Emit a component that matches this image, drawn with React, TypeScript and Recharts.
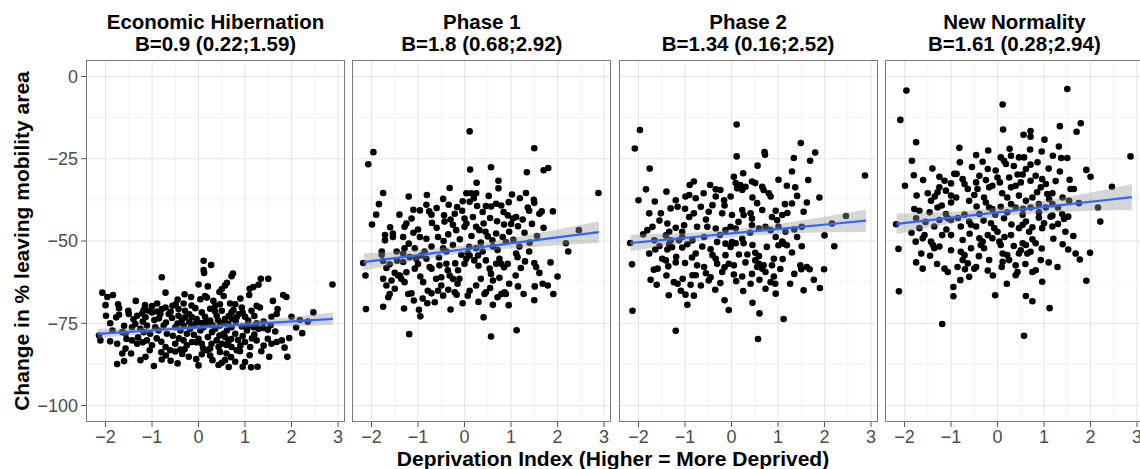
import React from 'react'
import { ComposedChart, Scatter, Line, Area, XAxis, YAxis, CartesianGrid } from 'recharts'

// axes shared by all four facets
const xDomain: [number, number] = [-2.42, 3.15]
const yDomain: [number, number] = [-105, 5]
const xTicks = [-2, -1, 0, 1, 2, 3]
const xMinor = [-1.5, -0.5, 0.5, 1.5, 2.5]
const yTicks = [-100, -75, -50, -25, 0]
const yMinor = [-87.5, -62.5, -37.5, -12.5]

const titles = ['Economic Hibernation', 'Phase 1', 'Phase 2', 'New Normality']
const subtitles = ['B=0.9 (0.22;1.59)', 'B=1.8 (0.68;2.92)', 'B=1.34 (0.16;2.52)', 'B=1.61 (0.28;2.94)']

// regression fit + 95% band, read at these x values
const fitX = [-2.17, -1.5, -0.75, 0, 0.75, 1.5, 2.2, 2.89]
const fit1 = [-78.2, -77.6, -76.9, -76.25, -75.6, -74.9, -74.3, -73.65]
const lo1 = [-79.7, -78.7, -77.7, -76.95, -76.4, -76.0, -75.8, -75.55]
const hi1 = [-76.7, -76.5, -76.1, -75.55, -74.8, -73.8, -72.8, -71.75]
const fit2 = [-56.4, -55.2, -53.85, -52.5, -51.15, -49.8, -48.54, -47.3]
const lo2 = [-59.0, -57.2, -55.25, -53.7, -52.55, -51.8, -51.14, -50.6]
const hi2 = [-53.8, -53.2, -52.45, -51.3, -49.75, -47.8, -45.94, -44.0]
const fit3 = [-50.61, -49.71, -48.71, -47.7, -46.7, -45.69, -44.75, -43.83]
const lo3 = [-53.11, -51.61, -50.11, -48.9, -48.1, -47.59, -47.35, -47.23]
const hi3 = [-48.11, -47.81, -47.31, -46.5, -45.3, -43.79, -42.15, -40.43]
const fit4 = [-44.79, -43.72, -42.51, -41.3, -40.09, -38.89, -37.76, -36.65]
const lo4 = [-47.89, -46.02, -44.11, -42.7, -41.69, -41.19, -40.76, -40.65]
const hi4 = [-41.69, -41.42, -40.91, -39.9, -38.49, -36.59, -34.76, -32.65]

// [deprivation index, change in %]
const pts1: [number, number][] = [
  [0.11, -56], [0.27, -57.3], [0.11, -58.8], [0.12, -59.7], [-0.79, -61], [0.71, -60.7], [0.74, -59.9], [1.34, -61.5],
  [1.5, -61.5], [2.88, -63.2], [0, -63.2], [0.57, -63.5], [0.61, -62.7], [0.5, -64.6], [1.1, -64.5], [1.18, -64],
  [1.29, -63.3], [0.45, -65.5], [-2.07, -65.7], [-1.96, -67], [-1.84, -66.4], [-1.73, -69.2], [-1.71, -70.4], [-0.71, -65.7],
  [-0.16, -67], [0.14, -66.7], [0.54, -66.7], [1.09, -66.4], [1.82, -66.4], [1.89, -67], [-0.89, -69], [-0.49, -69.2],
  [-0.32, -69], [0.04, -67.7], [0.18, -67.2], [0.32, -68.2], [0.36, -69.7], [0.46, -69.2], [0.68, -69], [0.79, -69.2],
  [0.93, -70.2], [1.25, -69.7], [1.32, -70.2], [-1.18, -71], [-1.07, -71.2], [-0.79, -70.7], [-0.71, -70.2], [-0.56, -69.7],
  [-0.43, -70.7], [-0.29, -71.2], [-0.07, -70.4], [-1.51, -71.2], [1.7, -70.7], [-1.99, -72.7], [-1.77, -73.2], [-1.71, -72.4],
  [-1.5, -72.2], [-1.32, -72.7], [-1.21, -72], [-1.14, -73.2], [-1, -71.7], [-0.89, -71.4], [-0.82, -72.2], [-0.64, -72.2],
  [-0.57, -73.4], [-0.43, -72.7], [-0.36, -74], [-0.29, -73.2], [-0.14, -73.2], [-0.04, -73.7], [0.07, -71.7], [0.14, -73],
  [0.25, -74.2], [0.39, -72.7], [0.5, -71.2], [0.57, -73.7], [0.71, -71.7], [0.82, -73.2], [0.87, -72.2], [1, -73],
  [1.07, -74.2], [1.14, -71.2], [1.57, -73], [1.68, -72.2], [2.0, -73], [2.18, -74], [2.47, -71.7], [-2.14, -78.7],
  [-2.11, -80.2], [-1.64, -77.7], [-1.57, -78.2], [-1.43, -76.2], [-1.36, -75.2], [-1.25, -76.7], [-1.18, -77.7], [-1.11, -75.7],
  [-1.04, -78.2], [-0.93, -76.2], [-0.86, -77.2], [-0.75, -75.7], [-0.68, -78.2], [-0.5, -76.2], [-0.39, -77.2], [-0.32, -75.7],
  [-0.25, -78.2], [-0.18, -76.7], [-0.07, -75.2], [0.04, -77.2], [0.11, -76.2], [0.21, -75.2], [0.29, -77.7], [0.36, -76.7],
  [0.46, -75.7], [0.54, -78.2], [0.61, -77.2], [0.64, -75.2], [0.71, -76.2], [0.79, -78.2], [0.93, -76], [1.04, -77.2],
  [1.18, -76.2], [1.29, -76.7], [1.39, -76.4], [1.49, -77], [2.23, -78], [-1.75, -81.2], [-1.57, -82.7], [-1.64, -84.2],
  [-1.43, -80.2], [-1.32, -81.2], [-1.11, -80.2], [-1, -81.7], [-0.71, -82.2], [-0.61, -83.2], [-0.5, -81.2], [-0.32, -80.2],
  [-0.25, -81.7], [-0.14, -80.7], [0, -79.7], [0.07, -81.2], [0.25, -82.7], [0.39, -80.2], [0.43, -82.2], [0.5, -81.2],
  [0.57, -79.2], [0.64, -80.7], [0.71, -82.2], [0.82, -83.2], [1, -80.7], [1.11, -82.2], [1.25, -80.2], [1.49, -79.7],
  [1.57, -81.2], [1.68, -80.7], [1.79, -80.2], [-1.75, -87.4], [-1.25, -86.2], [-1.14, -85.2], [-0.96, -88], [-0.79, -86],
  [-0.5, -83.6], [-0.39, -83], [-0.21, -85.2], [0.07, -84.4], [0.18, -83.2], [0.43, -87.7], [0.5, -87], [0.57, -86.2],
  [0.46, -83.7], [0.79, -86.7], [0.89, -83.5], [1.13, -88.4], [1.27, -88.2], [1.52, -85.2], [1.91, -85.2],
  [-1.2, -74.5], [-0.95, -74], [-0.7, -74.8], [-0.45, -75.1], [-0.2, -74.6], [0.05, -74.9], [0.3, -75.6], [0.55, -74.7],
  [0.8, -74.4], [1.05, -75.8], [-1.3, -79.3], [-0.9, -79.6], [-0.55, -78.8], [-0.1, -78.5], [0.2, -79.2], [0.45, -78.7],
  [0.7, -79.8], [0.95, -78.9], [1.2, -78.4], [-0.8, -83.8], [-0.3, -82.9], [0.1, -82.6], [0.6, -84.2], [0.9, -81.8],
  [-1.0, -69.8], [-0.15, -69.6], [0.25, -70.6], [0.75, -71], [1.4, -74.5], [-1.6, -75.8], [-1.85, -77.2], [1.65, -77.5],
  [-0.6, -86.4], [0.3, -86.2], [1.0, -86.8], [-1.45, -84.2], [-0.05, -85.9], [0.65, -88.3], [-1.9, -80.5], [1.85, -82.4],
  [-1.15, -69.5], [-0.6, -71.5], [-0.2, -72.3], [0.35, -71.3], [0.65, -72.8], [0.95, -71.8], [1.2, -72.8], [-1.4, -73.8],
  [-0.85, -73.5], [-0.15, -75.8], [0.15, -74.6], [0.42, -74.1], [0.72, -73.6], [1.25, -75], [1.55, -75.6], [-1.55, -79.8],
  [-1.2, -80.8], [-0.8, -80.6], [-0.42, -79.6], [-0.05, -80.8], [0.28, -81.2], [0.6, -81.6], [0.85, -80.1], [1.15, -79.6],
  [1.4, -81.8], [-1.05, -83.2], [-0.7, -84.8], [-0.35, -84.3], [0.25, -84.8], [0.7, -85.3], [1.1, -84.7], [1.35, -83.5],
  [-1.6, -86.5], [-0.45, -87.2], [0.0, -87.8], [0.95, -88.2], [-1.9, -75], [-2.0, -69.5], [2.1, -76.3], [1.95, -79.5],
  [2.35, -74.5], [-0.3, -66.2], [0.9, -67.5], [-1.35, -68.2], [0.2, -63.8], [-0.45, -67.8], [1.6, -68.2],
]

const pts2: [number, number][] = [
  [0.11, -16.7], [-1.96, -23], [-2.07, -26.7], [1.5, -21.8], [0.12, -28.3], [0.57, -27.6], [1.34, -29.1], [1.7, -28.5],
  [1.8, -27.8], [2.88, -35.4], [-1.75, -35.4], [-1.84, -38.8], [-1.99, -45], [-0.32, -33.9], [-0.81, -36], [-0.46, -37.2],
  [-0.34, -39], [0.26, -32.3], [0.73, -31.7], [0.73, -34], [0.52, -36.3], [0.04, -35.5], [0.14, -35.5], [0.25, -35.5],
  [1.02, -35.9], [1.19, -37], [1.32, -35.4], [1.49, -37.5], [-0.04, -37.9], [0.11, -38.1], [0.27, -39.4], [-0.16, -39.7],
  [-0.82, -39], [-0.96, -40.7], [-0.76, -41], [-0.71, -42], [-0.44, -42.2], [-0.21, -41.7], [0, -43.2], [0.18, -42.7],
  [0.39, -41.2], [0.46, -39.4], [0.57, -39.5], [0.68, -38.7], [0.79, -39.2], [0.84, -41.2], [0.93, -42.2], [1.04, -43.2],
  [1.11, -42.7], [1, -44.8], [1.36, -39.8], [1.39, -40.8], [1.5, -38.4], [1.61, -41.7], [1.66, -41], [1.9, -41],
  [-1.14, -43.2], [-1.25, -44.7], [-1.29, -45.7], [-1.32, -48.8], [-0.96, -48.8], [-0.82, -49.3], [-0.57, -48.8], [-0.43, -44.1],
  [-0.25, -45.1], [-0.18, -46.7], [0, -45.7], [0.04, -44.7], [0.25, -45.7], [0.32, -46.7], [0.41, -44.7], [0.45, -47.2],
  [0.68, -47.7], [0.82, -48.8], [0.89, -50.3], [0.96, -47.2], [1.29, -47.5], [1.56, -48.5], [-1.71, -48.2], [-1.71, -49.8],
  [-1.54, -47.7], [-1.54, -48.8], [2.46, -46.7], [2.18, -50.7], [2.23, -53.2], [1.39, -53.2], [1.18, -51.7], [-1.78, -53.2],
  [-1.78, -54.2], [-1.46, -53.2], [-1.29, -52.2], [-1.07, -52.2], [-0.86, -53.2], [-0.71, -51.7], [-0.46, -52.2], [-0.39, -53.2],
  [-0.25, -51.2], [-0.07, -54.2], [0.07, -53.7], [0.25, -52.2], [0.39, -53.2], [0.61, -51.7], [0.71, -52.7],
  [-1.0, -46.5], [-0.6, -46], [0.15, -48.5], [0.6, -49.8], [-0.1, -49.5], [-1.2, -50.8], [0.35, -50.5], [1.15, -45.5],
  [-0.35, -48], [0.85, -45],
  [-2.18, -56.7], [-2.13, -60.5], [-2.12, -70.7], [-1.75, -70], [-1.19, -78.3], [0.57, -79], [1.12, -77.1], [0.41, -73.2],
  [0.61, -69.4], [-0.95, -72.9], [-0.98, -70.9], [-1.09, -68.1], [-0.8, -68.9], [-0.64, -68.6], [-0.04, -68.9], [-1.61, -66.1],
  [-1.64, -67.1], [-1.75, -61.5], [-1.68, -63.5], [-1.57, -62], [-1.43, -60.5], [-1.36, -61.5], [-1.29, -62.5], [-1.21, -66.1],
  [-1.14, -65.9], [-0.79, -65.1], [-0.71, -65.9], [-0.57, -65.1], [-0.5, -63.5], [-0.46, -66.6], [-0.21, -65.6], [-0.17, -66.3],
  [0.07, -66.6], [0.11, -65.1], [0.25, -63.5], [0.43, -66.1], [0.46, -65.6], [0.71, -67.1], [0.79, -66.1], [0.86, -65.6],
  [0.89, -66.1], [0.96, -63], [1.27, -66.1], [1.51, -63.8], [1.68, -63], [1.79, -63.5], [1.91, -66.1], [2, -60.8],
  [1.21, -58.2], [1.5, -56.7], [1.54, -57.9], [1.61, -59.7], [-1.75, -56.1], [-1.68, -58.2], [-1.61, -57.1], [-1.5, -59.7],
  [-1.39, -60.5], [-1.32, -53.8], [-1.32, -56.4], [-1.18, -54.9], [-1.04, -55.4], [-0.93, -54.4], [-0.82, -55.4], [-0.75, -57.9],
  [-0.71, -58.4], [-0.39, -56.9], [-0.36, -58.9], [-0.32, -60.5], [-0.25, -61.5], [-0.14, -58.9], [-0.11, -61.5], [0, -56.9],
  [0.04, -55.4], [0.11, -54.4], [0.21, -55.9], [0.29, -54.4], [0.46, -55.9], [0.54, -58.4], [0.57, -60], [0.61, -62],
  [0.68, -56.9], [0.75, -55.4], [0.79, -56.9], [0.93, -56.9], [1.11, -53.8], [1.14, -54.9], [-0.61, -61.5], [-0.5, -61],
  [-0.89, -62.5], [-0.54, -57.4], [-1.07, -58.4],
  [-1.4, -42], [-1.1, -40.5], [-0.6, -40], [-0.05, -40.8], [0.55, -43], [1.25, -43.5], [-1.6, -45.8], [-0.7, -44.5],
  [-0.3, -43.5], [0.7, -44], [1.45, -44.8], [-1.1, -47.5], [-0.45, -50], [0.1, -51.8], [0.5, -48.6], [1.05, -49.6],
  [1.4, -50.5], [-1.45, -56], [-1.0, -57], [-0.55, -55], [-0.2, -56.8], [0.3, -57.5], [0.85, -58], [1.3, -56.2],
  [-1.25, -59.5], [-0.95, -60.8], [-0.15, -63], [0.35, -61.5], [0.75, -61.2], [1.1, -60.5], [-1.5, -64.5], [-0.35, -64.8],
  [0.55, -64.3], [1.15, -63.8], [-0.9, -67.5], [0.3, -68.5], [0.95, -69.5], [-1.3, -70.5], [-0.3, -70.8], [1.5, -68],
  [0.2, -37], [-1.2, -36.5], [0.95, -38.2], [1.7, -46], [-1.9, -42], [1.85, -56.5],
]

const pts3: [number, number][] = [
  [0.11, -14.6], [-1.97, -16.3], [-2.08, -21.9], [0.11, -24.3], [0.71, -23], [0.72, -23.8], [1.49, -20.2], [1.8, -23.1],
  [1.69, -25.6], [1.34, -24.8], [0.56, -27.1], [1.3, -28.9], [-1.76, -28], [2.87, -30.1], [-1.84, -34.3], [-2, -37.6],
  [0.25, -29.4], [-0.81, -31.9], [-0.46, -33], [-0.34, -34.3], [-0.24, -34.5], [0.09, -32.4], [0.19, -33], [0.12, -34],
  [0.23, -34.5], [0.3, -33.5], [0.44, -31.9], [0.51, -32.4], [0.66, -33.5], [0.69, -34.5], [0.8, -35.5], [0.84, -36.5],
  [1.01, -31.4], [1.19, -33.2], [1.37, -33.7], [1.41, -36.3], [1.3, -38.6], [1.55, -41.1], [1.62, -38.3], [1.89, -36.8],
  [-0.99, -36.5], [-0.91, -36], [-0.77, -37], [-0.34, -36.5], [-0.16, -37.6], [-0.02, -36.5], [-1.2, -37.6], [-1.16, -39.6],
  [-1.31, -40.1], [-1.77, -41.6], [-1.52, -41.6], [-1.38, -44.7], [-1.7, -45.7], [-1.81, -46.7], [-0.91, -42.7], [-0.81, -41.6],
  [-0.66, -39.6], [-0.41, -39.1], [-0.49, -41.1], [-0.2, -41.6], [0.01, -42.1], [0.23, -40.6], [0.26, -42.1], [0.41, -41.6],
  [0.44, -43.2], [0.66, -40.6], [0.87, -42.7], [0.98, -43.7], [1.09, -42.1], [-1.02, -45.2], [-1.06, -47.2], [-1.34, -47.2],
  [-0.74, -45.7], [-0.52, -45.7], [-0.34, -46.2], [-0.13, -46.7], [-0.02, -45.7], [0.09, -46.2], [0.44, -45.2], [0.59, -46.2],
  [0.73, -45.7], [0.84, -46.7], [1.01, -45.7], [1.16, -47.2], [1.41, -48.8], [1.51, -45.7], [2.16, -44.7], [2.46, -42.4],
  [-2.18, -50.6], [-1.66, -49.8], [-1.41, -48.3], [-1.31, -49.8], [-1.13, -49.8], [-1.06, -48.8], [-0.84, -49.8], [-0.59, -48.8],
  [-0.31, -50.3], [-0.13, -50.8], [0.01, -50.3], [-0.02, -51.8], [0.23, -49.3], [0.76, -51.8], [1.12, -50.8], [1.51, -51.6],
  [2.21, -51.6],
  [-2.14, -57.1], [-2.13, -71.2], [-1.2, -77.3], [0.57, -79.8], [0.6, -72], [1.12, -73.7], [-0.06, -71], [-0.95, -69.4],
  [-0.99, -66.3], [-0.81, -66.6], [-1.09, -65.1], [-1.77, -53.8], [-1.64, -52.6], [-1.74, -61.8], [-1.61, -63.3], [-1.67, -58.7],
  [-1.59, -58.4], [-1.49, -55.4], [-1.41, -55.9], [-1.36, -57.7], [-1.34, -50.9], [-1.28, -51.9], [-1.24, -62.5], [-1.16, -63],
  [-1.19, -54.8], [-1, -56.7], [-1.06, -52], [-0.95, -51], [-0.77, -53.8], [-0.74, -57.4], [-0.84, -60.4], [-0.77, -60.4],
  [-0.88, -63.3], [-0.66, -63.5], [-0.63, -51.7], [-0.59, -57.9], [-0.45, -61], [-0.49, -62], [-0.41, -54.3], [-0.34, -55.4],
  [-0.31, -56.9], [-0.2, -59.4], [-0.24, -62.8], [-0.13, -54.3], [-0.06, -56.9], [0.09, -50.7], [0.05, -57.4], [0.1, -62.2],
  [0.16, -54.1], [0.23, -60.8], [0.34, -54.1], [0.41, -63], [0.44, -60], [0.51, -55.9], [0.55, -57.9], [0.59, -56.9],
  [0.66, -58.4], [0.69, -57.4], [0.73, -59.4], [0.73, -64.5], [0.84, -62.5], [0.91, -60.8], [0.94, -63], [0.91, -55.4],
  [0.87, -57.4], [1.01, -51.3], [1.19, -51.3], [1.09, -50.2], [1.26, -63], [1.48, -57.4], [1.62, -57.9], [1.5, -58.6],
  [1.68, -58.6], [1.77, -61.8], [1.9, -64.3], [1.99, -58.6], [0.51, -53.6], [0.59, -54.6], [0.26, -50.7], [-1.38, -52.6],
  [-1.4, -35], [-0.6, -35.5], [0.45, -36.8], [1.15, -38.8], [-1.0, -40.2], [-0.15, -39.2], [0.55, -38.5], [1.2, -41.5],
  [-1.55, -43.8], [-0.55, -43.5], [0.15, -44.2], [0.95, -40.8], [-1.2, -46], [-0.25, -48.2], [0.4, -47.5], [0.95, -48.8],
  [1.35, -46.5], [-1.55, -51.5], [-0.45, -52.5], [0.45, -51.2], [1.3, -53.5], [-1.2, -56.5], [-0.85, -55], [-0.15, -58],
  [0.3, -56.5], [1.1, -55.5], [1.35, -60], [-1.4, -60.5], [-0.55, -59.8], [0.05, -60.2], [0.6, -61.8], [1.05, -58.5],
  [-1.05, -61.5], [-0.35, -64.8], [0.25, -65.2], [0.95, -66], [-1.35, -66.5], [-0.15, -68], [0.45, -68.8], [1.55, -65],
  [-1.9, -48], [2.0, -48.3], [-0.9, -33], [0.05, -30.5], [1.65, -31.5], [-1.65, -38],
]

const pts4: [number, number][] = [
  [-1.96, -4.3], [1.5, -3.8], [-2.09, -13.2], [0.11, -8.5], [0.12, -16.1], [-1.75, -20], [-1.84, -25.6], [-1.99, -33.2],
  [-0.82, -21.7], [-0.81, -26.1], [-0.46, -23.9], [-0.32, -25.9], [-0.21, -28.1], [-0.04, -28.6], [0.56, -17.7], [0.71, -16.6],
  [0.71, -18.3], [1.01, -19.2], [0.7, -22.2], [0.26, -22], [0.07, -24.6], [0.14, -25.6], [0.18, -26.6], [0.29, -24.1],
  [0.46, -24.6], [0.57, -24.6], [0.71, -26.8], [0.86, -26.1], [0.61, -28.1], [0.43, -29.8], [0.54, -29.8], [1.34, -15.1],
  [1.79, -14.2], [1.7, -16.8], [1.32, -21.3], [1.19, -24.1], [1.37, -24.8], [1.5, -24.8], [1.34, -28.9], [1.91, -28.4],
  [1.55, -31.4], [1.57, -34.2], [1.64, -34.2], [2.46, -33.5], [2.86, -24.3], [2.16, -39.8], [1.54, -37.8], [-0.93, -29.6],
  [-0.88, -29.6], [-1.25, -30.5], [-1.14, -31.7], [-1.25, -33.7], [-1.29, -35.2], [-0.75, -31.2], [-0.71, -32.7], [-0.64, -34.2],
  [-0.46, -32.2], [-0.43, -34.2], [-0.39, -30.2], [-0.18, -33.7], [-0.11, -33.2], [0, -30.7], [0.05, -32.2], [0.25, -30.7],
  [0.29, -33.7], [0.39, -33.2], [0.46, -36.2], [0.71, -31.7], [0.82, -30.2], [0.96, -31.2], [1.04, -32.7], [0.93, -33.7],
  [1.07, -35.7], [1.18, -35.5], [1.11, -37.3], [0.75, -36.8], [0.61, -37.8], [-1.74, -36.2], [-1.5, -35.5], [-1.43, -37.8],
  [-1.11, -34.7], [-1, -36.2], [-1, -38.3], [-0.89, -36.8], [-0.61, -37.8], [-0.29, -36.8], [-0.25, -38.3], [-0.18, -39.8],
  [-0.11, -40.3], [0.07, -39.6], [0.21, -36.8], [0.29, -38.8], [0.39, -39.8], [0.71, -39.8], [0.89, -38.8], [1.04, -39.8],
  [1.18, -38.8], [-1.29, -39.8], [-1.79, -40.3], [-1.68, -40.8], [-1.46, -41.3], [-1.11, -41.8], [-0.71, -42], [-0.39, -41.8],
  [-0.05, -42], [0.21, -41.3], [0.54, -42], [0.89, -41.3], [1.18, -42.3], [1.39, -41.8], [1.52, -42.6],
  [-2.18, -44.9], [-2.13, -52.4], [-2.12, -65.3], [-1.19, -75.2], [0.57, -78.8], [1.12, -70.4], [0.61, -66.7], [0.75, -68.3],
  [-0.05, -66.5], [-0.95, -64], [-0.95, -66.8], [-0.8, -61.9], [0.96, -62.4], [1.91, -62.1], [-1.75, -56.5], [-1.61, -58.4],
  [-1.64, -53.8], [-1.76, -50.2], [-1.57, -48.2], [-1.61, -49.2], [-1.68, -46.1], [-1.75, -43.1], [-1.43, -50.2], [-1.39, -51.2],
  [-1.36, -52.2], [-1.25, -51.7], [-1.19, -48.2], [-1.36, -45.6], [-1.25, -43.6], [-1.07, -43.1], [-1, -43.6], [-1, -48.2],
  [-1.14, -58.4], [-1.07, -59.4], [-0.86, -57.9], [-0.79, -53.3], [-0.71, -54.3], [-0.75, -55.8], [-0.64, -56.8], [-0.79, -45.6],
  [-0.75, -49.7], [-0.61, -44.1], [-0.57, -45.1], [-0.46, -45.6], [-0.57, -52.2], [-0.46, -57.9], [-0.5, -58.4], [-0.39, -49.2],
  [-0.32, -50.2], [-0.36, -51.2], [-0.29, -52.2], [-0.21, -59], [-0.18, -55.8], [-0.14, -44.6], [-0.07, -46.1], [-0.21, -48.2],
  [-0.11, -49.2], [0, -47.2], [0.04, -50.2], [0.07, -51.2], [0.11, -53.8], [0.11, -56.3], [0.09, -57.9], [0.21, -54.3],
  [0.25, -55.8], [0.14, -43.1], [0.29, -48.2], [0.39, -57.4], [0.43, -59.4], [0.46, -53.8], [0.5, -52.8], [0.54, -50.7],
  [0.61, -51.2], [0.46, -46.1], [0.54, -45.1], [0.61, -44.1], [0.68, -47.2], [0.64, -53.8], [0.71, -53.3], [0.75, -59.4],
  [0.82, -50.7], [0.93, -55.8], [0.89, -42.9], [0.96, -46.1], [1, -44.6], [1.14, -42.6], [1.18, -45.6], [1.29, -57.9],
  [1.46, -47.2], [1.43, -43.3], [1.68, -53.8], [1.52, -52.6], [1.63, -48.5], [1.77, -55.6], [1.99, -53.6], [2.21, -44.1],
  [0.39, -60.4], [0.82, -58.9], [-0.61, -60.9],
  [-1.4, -28], [-0.55, -27.5], [0.35, -27.2], [1.1, -28], [-1.6, -31.5], [-1.0, -32.5], [-0.25, -31.5], [0.5, -32.2],
  [1.25, -31.8], [-1.35, -36.5], [-0.5, -36], [0.1, -35.5], [0.85, -35.2], [1.4, -36.8], [-1.2, -39.2], [-0.45, -39.5],
  [0.55, -40.2], [1.3, -39.8], [-1.55, -44.2], [-0.85, -43], [-0.3, -43.8], [0.3, -45], [0.75, -45.8], [1.3, -44.8],
  [-1.1, -46.5], [-0.6, -47.8], [0.15, -48.8], [0.75, -49.5], [1.2, -49.3], [-1.45, -54.5], [-1.0, -52.8], [-0.4, -54.6],
  [0.35, -51.5], [0.95, -52.3], [1.4, -51], [-1.3, -57], [-0.1, -60.5], [0.6, -57], [1.1, -56.5], [-0.7, -58.6],
  [0.2, -63], [-1.85, -47.5], [1.75, -38.5], [2.0, -30.5], [-1.8, -30], [-0.2, -22.5], [0.95, -22.8],
]

const facets = [
  { pts: pts1, fit: fit1, lo: lo1, hi: hi1 },
  { pts: pts2, fit: fit2, lo: lo2, hi: hi2 },
  { pts: pts3, fit: fit3, lo: lo3, hi: hi3 },
  { pts: pts4, fit: fit4, lo: lo4, hi: hi4 },
]

const FONT = '"Liberation Sans", Arial, sans-serif'
const PANEL_W = 259
const PANEL_H = 362
const PANEL_TOP = 60
const PANEL_STEP = 266.3
const FIRST_LEFT = 86
const X_AXIS_H = 32

const minus = (v: number) => String(v).replace('-', '\u2212')
const tickStyle = { fontSize: 18, fill: '#4d4d4d', fontFamily: FONT }

function Dot(p: any) {
  return <circle cx={p.cx} cy={p.cy} r={3.3} fill="#000" />
}

function Facet({ idx }: { idx: number }) {
  const f = facets[idx]
  const showY = idx === 0
  const rows = fitX.map((x, i) => ({ x, fit: f.fit[i], band: [f.lo[i], f.hi[i]] }))
  const points = f.pts.map(([x, y]) => ({ x, y }))
  const panelLeft = FIRST_LEFT + idx * PANEL_STEP
  const left = showY ? 0 : panelLeft
  return (
    <>
      <div style={{ position: 'absolute', left, top: PANEL_TOP }}>
        <ComposedChart
          width={showY ? FIRST_LEFT + PANEL_W : PANEL_W}
          height={PANEL_H + X_AXIS_H}
          data={rows}
          margin={{ top: 0, right: 0, bottom: 0, left: 0 }}
        >
          <CartesianGrid stroke="#f0f0f0" strokeWidth={0.8} verticalValues={xMinor} horizontalValues={yMinor} />
          <CartesianGrid stroke="#e6e6e6" strokeWidth={1.1} verticalValues={xTicks} horizontalValues={yTicks} />
          <XAxis
            type="number" dataKey="x" domain={xDomain} allowDataOverflow ticks={xTicks}
            height={X_AXIS_H} tickSize={5} tickMargin={3} axisLine={false}
            tickLine={{ stroke: '#555' }} tick={tickStyle} tickFormatter={minus} interval={0}
          />
          <YAxis
            type="number" dataKey="y" domain={yDomain} allowDataOverflow ticks={yTicks}
            hide={!showY} width={FIRST_LEFT} tickSize={5} tickMargin={3} axisLine={false}
            tickLine={{ stroke: '#555' }} tick={tickStyle} tickFormatter={minus} interval={0}
          />
          <Scatter data={points} dataKey="y" shape={Dot} isAnimationActive={false} />
          <Area
            type="monotone" dataKey="band" fill="#999999" fillOpacity={0.4} stroke="none"
            isAnimationActive={false} zIndex={650} activeDot={false}
          />
          <Line
            type="linear" dataKey="fit" stroke="#3366FF" strokeWidth={2.2} dot={false}
            isAnimationActive={false} zIndex={700} activeDot={false}
          />
        </ComposedChart>
      </div>
      <div
        style={{
          position: 'absolute', left: panelLeft, top: PANEL_TOP, width: PANEL_W, height: PANEL_H,
          border: '1px solid #7a7a7a', boxSizing: 'border-box', pointerEvents: 'none',
        }}
      />
    </>
  )
}

export default function App() {
  return (
    <div style={{ position: 'absolute', left: 0, top: 0, width: 1140, height: 469, overflow: 'hidden', background: '#fff' }}>
      <svg width={1140} height={469} style={{ position: 'absolute', left: 0, top: 0 }}>
        {titles.map((t, i) => {
          const cx = FIRST_LEFT + i * PANEL_STEP + PANEL_W / 2
          return (
            <g key={t} fontFamily={FONT} fontWeight="bold" fontSize={20.5} fill="#000" textAnchor="middle">
              <text x={cx} y={28.5}>{t}</text>
              <text x={cx} y={51}>{subtitles[i]}</text>
            </g>
          )
        })}
        <text
          x={613} y={466} fontFamily={FONT} fontWeight="bold" fontSize={21} textAnchor="middle"
        >
          Deprivation Index (Higher = More Deprived)
        </text>
        <text
          transform="translate(29,241) rotate(-90)" fontFamily={FONT} fontWeight="bold" fontSize={21}
          textAnchor="middle"
        >
          Change in % leaving mobility area
        </text>
      </svg>
      {facets.map((_, i) => <Facet key={i} idx={i} />)}
    </div>
  )
}
